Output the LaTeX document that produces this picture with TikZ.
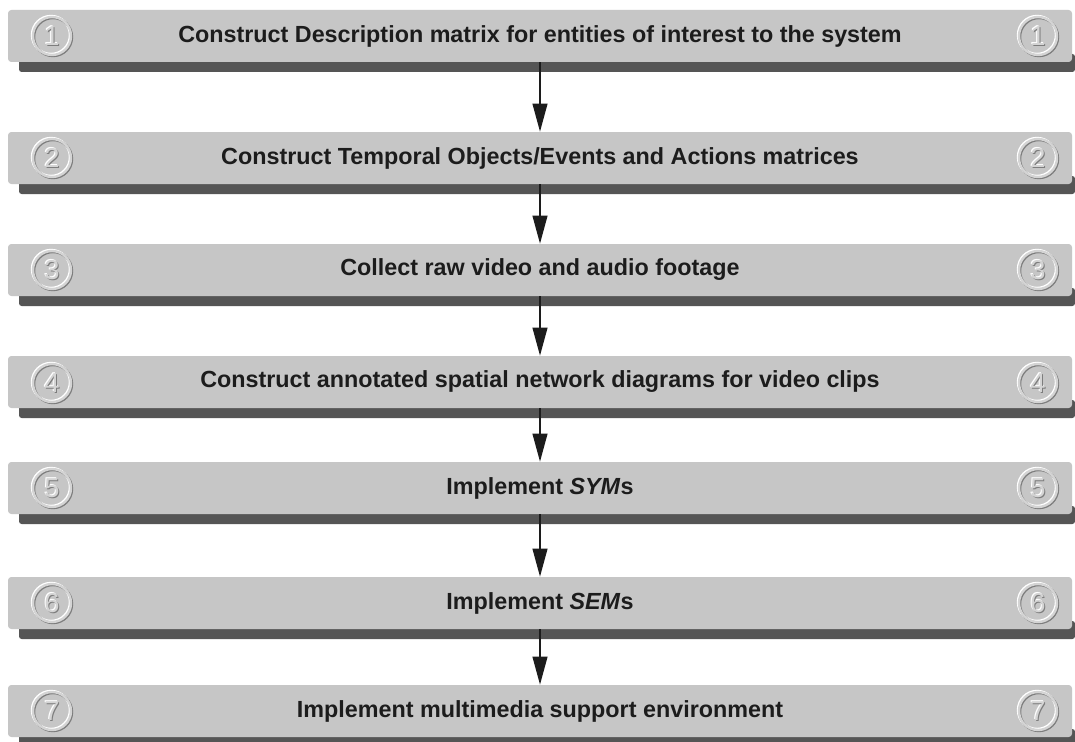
\documentclass[tikz,border=0pt]{standalone}
\usepackage{fontspec}
\setmainfont{Liberation Sans}
\usetikzlibrary{arrows.meta}

\definecolor{boxgray}{RGB}{198,198,198}
\definecolor{bargray}{RGB}{85,85,85}
\definecolor{inkblack}{RGB}{28,28,28}
\definecolor{ringgray}{RGB}{212,212,212}
\definecolor{ringdark}{RGB}{125,125,125}

\begin{document}
\begin{tikzpicture}[x=0.75pt,y=-0.75pt,
  stepbox/.style={fill=boxgray, rounded corners=2.5pt, inner sep=0pt,
    minimum width=798pt, minimum height=39pt,
    text=inkblack, font=\bfseries\fontsize{17.5}{20}\selectfont},
  flowarrow/.style={draw=inkblack, line width=1.5pt,
    -{Triangle[length=21pt,width=11pt]}},
  badge/.pic={
    \draw[white, line width=1.8pt] (-1,-1) circle (19);
    \draw[ringdark, line width=1.8pt] (1,1) circle (19);
    \draw[ringgray, line width=1.8pt] (0,0) circle (19);
    \node[white, font=\fontsize{20.5}{20}\selectfont] (hi) at (-1,-1) {#1};
    \node[ringdark, font=\fontsize{20.5}{20}\selectfont] (lo) at (1,1) {#1};
    \node[ringgray, font=\fontsize{20.5}{20}\selectfont] (num) at (0,0) {#1};
  }]
  \useasboundingbox (0,0) rectangle (1075,742);
  \fill[white] (0,0) rectangle (1075,742);

  % shadow bars under each step
  \foreach \t in {10,132,244,356,462,577,685}
    \fill[bargray, rounded corners=2pt] (19,\t+44) rectangle (1075,\t+62);

  % the seven steps
  \node[stepbox] (b1) at (540,36)  {Construct Description matrix for entities of interest to the system};
  \node[stepbox] (b2) at (540,158) {Construct Temporal Objects/Events and Actions matrices};
  \node[stepbox] (b3) at (540,270) {Collect raw video and audio footage};
  \node[stepbox] (b4) at (540,382) {Construct annotated spatial network diagrams for video clips};
  \node[stepbox] (b5) at (540,488) {Implement \textit{SYM}s};
  \node[stepbox] (b6) at (540,603) {Implement \textit{SEM}s};
  \node[stepbox] (b7) at (540,711) {Implement multimedia support environment};

  % numbered badges on both ends
  \foreach \n/\y in {1/36,2/158,3/270,4/383,5/488,6/603,7/711}{
    \pic (l\n) at (52,\y) {badge=\n};
    \pic (r\n) at (1038,\y) {badge=\n};
  }

  % flow between steps
  \draw[flowarrow] (b1.south) -- (b2.north);
  \draw[flowarrow] (b2.south) -- (b3.north);
  \draw[flowarrow] (b3.south) -- (b4.north);
  \draw[flowarrow] (b4.south) -- (b5.north);
  \draw[flowarrow] (b5.south) -- (b6.north);
  \draw[flowarrow] (b6.south) -- (b7.north);
\end{tikzpicture}
\end{document}
